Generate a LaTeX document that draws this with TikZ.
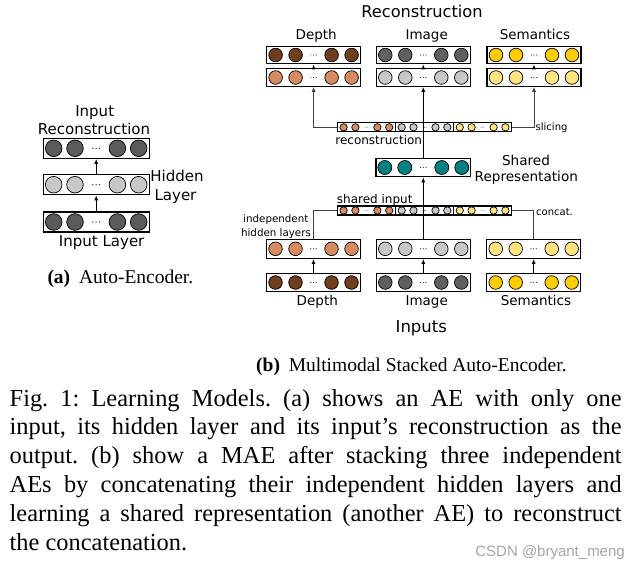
\documentclass[tikz,border=0pt]{standalone}
\usepackage{fontspec}
\setmainfont{Liberation Serif}
\newfontfamily\dv{DejaVu Sans}
\newfontfamily\wm{Liberation Sans}
\usetikzlibrary{arrows.meta,calc}
\frenchspacing
\definecolor{depthD}{RGB}{110,62,30}
\definecolor{depthL}{RGB}{214,140,96}
\definecolor{imgD}{RGB}{96,96,96}
\definecolor{imgL}{RGB}{200,200,200}
\definecolor{semD}{RGB}{255,204,0}
\definecolor{semL}{RGB}{255,228,128}
\definecolor{tealU}{RGB}{0,128,128}
\definecolor{aeD}{RGB}{90,90,90}
\definecolor{aeL}{RGB}{200,200,200}
\definecolor{wmgray}{RGB}{165,165,165}
\tikzset{
  layerbox/.style={draw=black, line width=1.1pt, fill=white, inner sep=0pt, rectangle},
  unit/.style={circle, draw=black, line width=0.7pt, inner sep=0pt},
  conn/.style={line width=1pt, -{Latex[length=5pt,width=4pt]}},
  link/.style={line width=0.9pt, draw=black!75},
  lbl/.style={anchor=base, inner sep=0pt},
  capline/.style={anchor=base west, inner sep=0pt, font=\fontsize{24.4pt}{29pt}\selectfont},
}
% #1 name, #2 x, #3 y, #4 w, #5 h, #6 r, #7 inner offset, #8 outer offset, #9 color
\newcommand\mylayer[9]{%
  \node[layerbox, minimum width=#4pt, minimum height=#5pt] (#1) at (#2,#3) {};
  \foreach \dx [count=\i] in {-#8,-#7,#7,#8}{
    \node[unit, fill=#9, minimum size={2*#6pt}] (#1u\i) at ([xshift=\dx pt]#1.center) {};
  }
  \fill[black!80] ([xshift={-0.4*#6pt}]#1.center) circle ({0.09*#6pt});
  \fill[black!80] (#1.center) circle ({0.09*#6pt});
  \fill[black!80] ([xshift={0.4*#6pt}]#1.center) circle ({0.09*#6pt});
}
\begin{document}
\begin{tikzpicture}[x=1pt,y=-1pt]
\useasboundingbox[fill=white] (0,0) rectangle (641,570);

% ---------- (a) Auto-Encoder ----------
\mylayer{aeOut}{96.2}{148.3}{106}{20}{8.3}{21.2}{42.5}{aeD}
\mylayer{aeHid}{96.2}{184.7}{106}{20}{8.3}{21.2}{42.5}{aeL}
\mylayer{aeIn}{96.2}{222}{106}{20}{8.3}{21.2}{42.5}{aeD}
\draw[conn] (aeIn.north) -- (aeHid.south);
\draw[conn] (aeHid.north) -- (aeOut.south);
\node[lbl, font=\dv\fontsize{15pt}{18pt}\selectfont] (tInp) at (94.7,116) {Input};
\node[lbl, font=\dv\fontsize{15pt}{18pt}\selectfont] (tRec) at (94,134.5) {Reconstruction};
\node[lbl, font=\dv\fontsize{15pt}{18pt}\selectfont] (tHid) at (177,181) {Hidden};
\node[lbl, font=\dv\fontsize{15pt}{18pt}\selectfont] (tLay) at (175.5,200) {Layer};
\node[lbl, font=\dv\fontsize{15pt}{18pt}\selectfont] (tInL) at (101.7,246.7) {Input Layer};

% ---------- (b) Multimodal Stacked AE ----------
% reconstruction outputs
\mylayer{dOut}{313.6}{55}{94}{17.5}{6.8}{18}{38}{depthD}
\mylayer{iOut}{423.3}{55}{94}{17.5}{6.8}{18}{38}{imgD}
\mylayer{sOut}{534}{55}{94}{17.5}{6.8}{18}{38}{semD}
\mylayer{dRec}{313.6}{77.5}{94}{17.5}{6.8}{18}{38}{depthL}
\mylayer{iRec}{423.3}{77.5}{94}{17.5}{6.8}{18}{38}{imgL}
\mylayer{sRec}{534}{77.5}{94}{17.5}{6.8}{18}{38}{semL}
% reconstruction bar
\mylayer{recD}{366.4}{127.3}{58.1}{9}{3.7}{11}{22.8}{depthL}
\mylayer{recI}{424.5}{127.3}{58.1}{9}{3.7}{11}{22.8}{imgL}
\mylayer{recS}{482.6}{127.3}{58.1}{9}{3.7}{11}{22.8}{semL}
% shared representation
\mylayer{shared}{423.3}{167.5}{94.7}{18.4}{7}{18.5}{38.5}{tealU}
% shared input bar
\mylayer{shD}{366.4}{210.5}{58.1}{9}{3.7}{11}{22.8}{depthL}
\mylayer{shI}{424.5}{210.5}{58.1}{9}{3.7}{11}{22.8}{imgL}
\mylayer{shS}{482.6}{210.5}{58.1}{9}{3.7}{11}{22.8}{semL}
% independent hidden layers
\mylayer{dHid}{313.5}{248.8}{94}{19}{6.8}{18}{38}{depthL}
\mylayer{iHid}{423.3}{248.8}{94}{19}{6.8}{18}{38}{imgL}
\mylayer{sHid}{533.7}{248.8}{94}{19}{6.8}{18}{38}{semL}
% inputs
\mylayer{dIn}{313.5}{282.5}{94}{18.4}{6.8}{18}{38}{depthD}
\mylayer{iIn}{423.3}{282.5}{94}{18.4}{6.8}{18}{38}{imgD}
\mylayer{sIn}{533.7}{282.5}{94}{18.4}{6.8}{18}{38}{semD}

% connectors
\draw[conn] (dIn.north) -- (dHid.south);
\draw[conn] (iIn.north) -- (iHid.south);
\draw[conn] (sIn.north) -- (sHid.south);
\draw[link] (dHid.north) |- (shD.west);
\draw[link] (sHid.north) |- (shS.east);
\draw[conn] (iHid.north) -- (shared.south);
\draw[conn] (shared.north) -- (iRec.south);
\draw[link, -{Latex[length=5pt,width=4pt]}] (recD.west) -| (dRec.south);
\draw[link, -{Latex[length=5pt,width=4pt]}] (recS.east) -| (sRec.south);
\draw[conn] (dRec.north) -- (dOut.south);
\draw[conn] (iRec.north) -- (iOut.south);
\draw[conn] (sRec.north) -- (sOut.south);

% labels
\node[lbl, font=\dv\fontsize{16.2pt}{19pt}\selectfont] (tRecon) at (422,17) {Reconstruction};
\node[lbl, font=\dv\fontsize{13.5pt}{16pt}\selectfont] (tDo) at (316.2,39.5) {Depth};
\node[lbl, font=\dv\fontsize{13.5pt}{16pt}\selectfont] (tIo) at (426.7,39.5) {Image};
\node[lbl, font=\dv\fontsize{13.5pt}{16pt}\selectfont] (tSo) at (535,39.5) {Semantics};
\node[lbl, anchor=base west, font=\dv\fontsize{10pt}{12pt}\selectfont] (tSlice) at (535.5,130) {slicing};
\node[lbl, font=\dv\fontsize{12pt}{14pt}\selectfont] (tRc) at (378.7,144) {reconstruction};
\node[lbl, font=\dv\fontsize{13.6pt}{16pt}\selectfont] (tSh) at (526,165) {Shared};
\node[lbl, font=\dv\fontsize{13.6pt}{16pt}\selectfont] (tRep) at (526.3,181.7) {Representation};
\node[lbl, font=\dv\fontsize{12pt}{14pt}\selectfont] (tShi) at (374.7,203.3) {shared input};
\node[lbl, anchor=base west, font=\dv\fontsize{10pt}{12pt}\selectfont] (tCat) at (536,215) {concat.};
\node[lbl, font=\dv\fontsize{10.3pt}{12pt}\selectfont] (tInd) at (275.8,222.7) {independent};
\node[lbl, font=\dv\fontsize{10.3pt}{12pt}\selectfont] (tHl) at (276,236) {hidden layers};
\node[lbl, font=\dv\fontsize{13.5pt}{16pt}\selectfont] (tDi) at (317.3,305) {Depth};
\node[lbl, font=\dv\fontsize{13.5pt}{16pt}\selectfont] (tIi) at (426.7,305) {Image};
\node[lbl, font=\dv\fontsize{13.5pt}{16pt}\selectfont] (tSi) at (536,305) {Semantics};
\node[lbl, font=\dv\fontsize{16.5pt}{19pt}\selectfont] (tInputs) at (421.3,332.7) {Inputs};

% sub-captions
\node[lbl, anchor=base west, font=\fontsize{19.5pt}{23pt}\selectfont] (capA) at (47.3,283.3) {\textbf{(a)}\hspace{0.45em}Auto-Encoder.};
\node[lbl, anchor=base west, font=\fontsize{19.5pt}{23pt}\selectfont] (capB) at (256,371) {\textbf{(b)}\hspace{0.45em}Multimodal Stacked Auto-Encoder.};

% main caption
\node[capline] (c1) at (9.5,406) {\makebox[612pt][s]{Fig. 1: Learning Models. (a) shows an AE with only one}};
\node[capline] (c2) at (9.5,434.8) {\makebox[612pt][s]{input, its hidden layer and its input’s reconstruction as the}};
\node[capline] (c3) at (9.5,463.6) {\makebox[612pt][s]{output. (b) show a MAE after stacking three independent}};
\node[capline] (c4) at (9.5,492.4) {\makebox[612pt][s]{AEs by concatenating their independent hidden layers and}};
\node[capline] (c5) at (9.5,521.2) {\makebox[612pt][s]{learning a shared representation (another AE) to reconstruct}};
\node[capline] (c6) at (9.5,550) {the concatenation.};

% watermark
\node[lbl, anchor=base east, text=wmgray, font=\wm\fontsize{15pt}{18pt}\selectfont] (wmark) at (625,556.7) {CSDN @bryant\_meng};
\end{tikzpicture}
\end{document}
